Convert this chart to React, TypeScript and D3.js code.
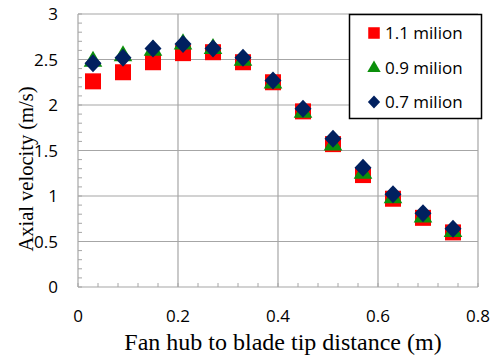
import React from "react";
import * as d3 from "d3";

// distance from hub (m)
const positions = [0.03, 0.09, 0.15, 0.21, 0.27, 0.33, 0.39, 0.45, 0.51, 0.57, 0.63, 0.69, 0.75];
const vel11 = [2.26, 2.36, 2.47, 2.57, 2.58, 2.47, 2.25, 1.93, 1.57, 1.23, 0.97, 0.76, 0.6];
const vel09 = [2.49, 2.55, 2.61, 2.68, 2.63, 2.5, 2.25, 1.93, 1.57, 1.26, 0.99, 0.78, 0.62];
const vel07 = [2.46, 2.52, 2.62, 2.67, 2.62, 2.52, 2.27, 1.96, 1.63, 1.31, 1.02, 0.81, 0.64];
const seriesNames = ["1.1 milion", "0.9 milion", "0.7 milion"];
const xTicks = [0, 0.2, 0.4, 0.6, 0.8];
const yTicks = [0, 0.5, 1, 1.5, 2, 2.5, 3];

const W = 497;
const H = 356;
const margin = { top: 14, right: 19, bottom: 69, left: 78 };

const sans = "Open Sans, DejaVu Sans, sans-serif";
const serif = "Liberation Serif, Tinos, Times New Roman, DejaVu Serif, serif";
const gridColor = "#a6a6a6";

const colors = ["#ff0000", "#0b8f0b", "#00205f"];

function Marker({ kind, cx, cy }: { kind: number; cx: number; cy: number }) {
  if (kind === 0) {
    return <rect x={cx - 8} y={cy - 8} width={16} height={16} fill={colors[0]} />;
  }
  if (kind === 1) {
    const tri = d3.symbol(d3.symbolTriangle, 150)()!;
    return <path d={tri} transform={`translate(${cx},${cy + 1})`} fill={colors[1]} />;
  }
  const dia = `M0,-9L8.5,0L0,9L-8.5,0Z`;
  return <path d={dia} transform={`translate(${cx},${cy})`} fill={colors[2]} />;
}

export default function App() {
  const x = d3.scaleLinear().domain([0, 0.8]).range([margin.left, W - margin.right]);
  const y = d3.scaleLinear().domain([0, 3]).range([H - margin.bottom, margin.top]);
  const xMinor = d3.range(0, 0.8001, 0.04);
  const yMinor = d3.range(0, 3.0001, 0.1);
  const series = [vel11, vel09, vel07];

  return (
    <svg width={W} height={H} style={{ position: "absolute", left: 0, top: 0, background: "#fff" }}>
      {/* grid */}
      {xTicks.map((t) => (
        <line key={"gx" + t} x1={x(t)} x2={x(t)} y1={y(0)} y2={y(3)} stroke={gridColor} strokeWidth={1.2} />
      ))}
      {yTicks.map((t) => (
        <line key={"gy" + t} x1={x(0)} x2={x(0.8)} y1={y(t)} y2={y(t)} stroke={gridColor} strokeWidth={1.2} />
      ))}
      {/* minor ticks */}
      {xMinor.map((t, i) => (
        <line key={"mx" + i} x1={x(t)} x2={x(t)} y1={y(0)} y2={y(0) - 4} stroke={gridColor} strokeWidth={1} />
      ))}
      {yMinor.map((t, i) => (
        <line key={"my" + i} x1={x(0)} x2={x(0) + 4} y1={y(t)} y2={y(t)} stroke={gridColor} strokeWidth={1} />
      ))}
      {/* tick labels */}
      {xTicks.map((t) => (
        <text key={"lx" + t} x={x(t)} y={y(0) + 34.5} textAnchor="middle" fontFamily={sans} fontSize={17} fill="#000">
          {t === 0 ? "0" : t.toString()}
        </text>
      ))}
      {yTicks.map((t) => (
        <text key={"ly" + t} x={x(0) - 20} y={y(t)} dy="0.36em" textAnchor="end" fontFamily={sans} fontSize={17} fill="#000">
          {t.toString()}
        </text>
      ))}
      {/* axis titles */}
      <text x={283} y={350} textAnchor="middle" fontFamily={serif} fontSize={24} fill="#000">
        Fan hub to blade tip distance (m)
      </text>
      <text
        transform={`translate(33,${169}) rotate(-90)`}
        textAnchor="middle"
        fontFamily={serif}
        fontSize={20.5}
        fill="#000"
      >
        Axial velocity (m/s)
      </text>
      {/* markers */}
      {series.map((vals, s) =>
        vals.map((v, i) => <Marker key={`m${s}-${i}`} kind={s} cx={x(positions[i])} cy={y(v)} />)
      )}
      {/* legend */}
      <rect x={349.5} y={14.5} width={132} height={104} fill="#fff" stroke="#000" strokeWidth={1.5} />
      {seriesNames.map((n, i) => {
        const cy = 33 + i * 34.5;
        return (
          <g key={n}>
            <g transform={`translate(374,${cy}) scale(0.72) translate(-374,${-cy})`}>
              <Marker kind={i} cx={374} cy={cy} />
            </g>
            <text x={385} y={cy} dy="0.36em" fontFamily={sans} fontSize={17} fill="#000">
              {n}
            </text>
          </g>
        );
      })}
    </svg>
  );
}
